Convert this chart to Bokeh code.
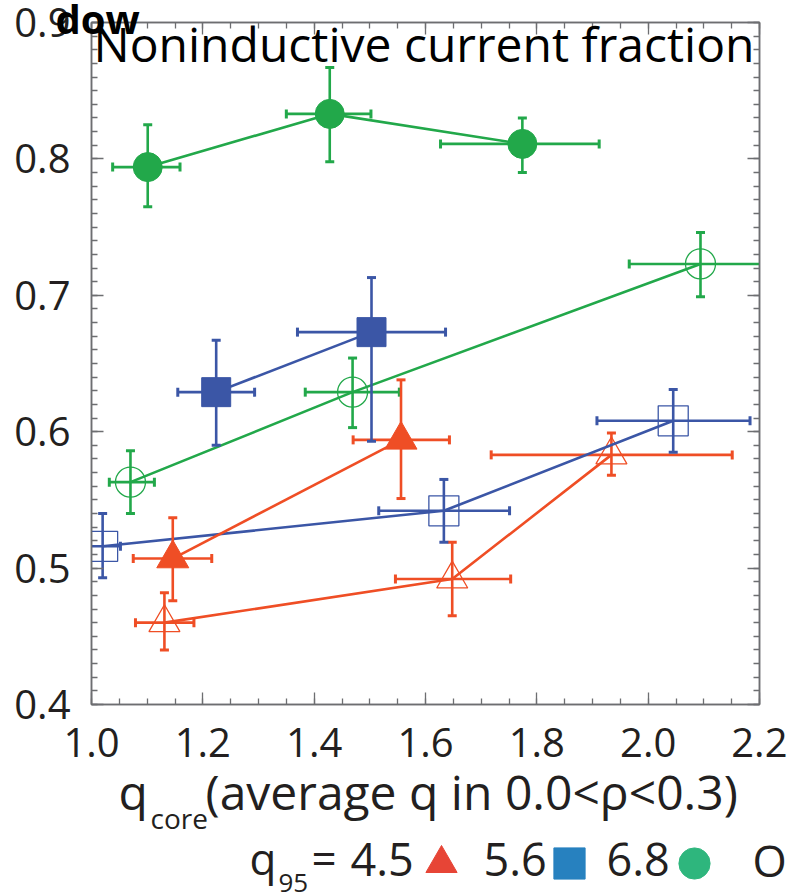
import numpy as np
from bokeh.plotting import figure
from bokeh.models import Range1d, LinearAxis, FixedTicker, Label, Legend, LegendItem, GridBox
from bokeh.core.properties import value
from bokeh.embed import file_html
from bokeh.resources import INLINE

# ---------------- data ----------------
x_ticks = [1.0, 1.2, 1.4, 1.6, 1.8, 2.0, 2.2]
x_tick_labels = ["1.0", "1.2", "1.4", "1.6", "1.8", "2.0", "2.2"]
y_ticks = [0.4, 0.5, 0.6, 0.7, 0.8, 0.9]
y_tick_labels = ["0.4", "0.5", "0.6", "0.7", "0.8", "0.9"]
q95_values = ["4.5", "5.6", "6.8"]

# q95 = 4.5, filled triangles
tri_full_x = [1.146, 1.556]
tri_full_y = [0.507, 0.594]
tri_full_xlo = [1.075, 1.470]
tri_full_xhi = [1.216, 1.643]
tri_full_ylo = [0.476, 0.551]
tri_full_yhi = [0.537, 0.638]

# q95 = 4.5, open triangles
tri_open_x = [1.131, 1.648, 1.934]
tri_open_y = [0.460, 0.492, 0.583]
tri_open_xlo = [1.079, 1.546, 1.718]
tri_open_xhi = [1.184, 1.753, 2.151]
tri_open_ylo = [0.440, 0.465, 0.568]
tri_open_yhi = [0.482, 0.519, 0.599]

# q95 = 5.6, filled squares
sq_full_x = [1.224, 1.503]
sq_full_y = [0.629, 0.673]
sq_full_xlo = [1.155, 1.370]
sq_full_xhi = [1.293, 1.636]
sq_full_ylo = [0.590, 0.593]
sq_full_yhi = [0.667, 0.713]

# q95 = 5.6, open squares
sq_open_x = [1.020, 1.633, 2.045]
sq_open_y = [0.516, 0.542, 0.608]
sq_open_xlo = [0.985, 1.516, 1.908]
sq_open_xhi = [1.052, 1.751, 2.183]
sq_open_ylo = [0.493, 0.519, 0.585]
sq_open_yhi = [0.540, 0.565, 0.631]

# q95 = 6.8, filled circles
circ_full_x = [1.101, 1.428, 1.774]
circ_full_y = [0.794, 0.833, 0.811]
circ_full_xlo = [1.038, 1.350, 1.627]
circ_full_xhi = [1.159, 1.502, 1.912]
circ_full_ylo = [0.765, 0.798, 0.790]
circ_full_yhi = [0.825, 0.867, 0.830]

# q95 = 6.8, open circles
circ_open_x = [1.070, 1.469, 2.094]
circ_open_y = [0.563, 0.629, 0.723]
circ_open_xlo = [1.032, 1.384, 1.966]
circ_open_xhi = [1.113, 1.553, 2.250]
circ_open_ylo = [0.540, 0.603, 0.699]
circ_open_yhi = [0.586, 0.654, 0.746]

# ---------------- style ----------------
RED = "#ef4e25"
BLUE = "#3b56a6"
GREEN = "#22a84a"
LEG_RED = "#e74536"
LEG_BLUE = "#2781bf"
LEG_GREEN = "#2eb67d"
AX = "#6d6e71"
TXT = "#231f20"
FONT = "Open Sans"
W, H = 787, 895

p = figure(width=W, height=H, x_range=Range1d(1.0, 2.2), y_range=Range1d(0.4, 0.9),
           output_backend="svg", toolbar_location=None,
           min_border_left=91, min_border_right=28, min_border_top=22, min_border_bottom=191)
p.frame_align = False
p.xgrid.visible = False
p.ygrid.visible = False
p.outline_line_color = AX
p.outline_line_width = 1.5
p.background_fill_color = "white"
p.border_fill_color = "white"

x_ticker = FixedTicker(ticks=x_ticks, minor_ticks=[round(v, 3) for v in np.arange(1.0, 2.2001, 0.05)])
y_ticker = FixedTicker(ticks=y_ticks, minor_ticks=[round(v, 3) for v in np.arange(0.4, 0.9001, 0.01)])


def style_axis(ax):
    ax.axis_line_color = AX
    ax.axis_line_width = 1.5
    ax.major_tick_line_color = AX
    ax.minor_tick_line_color = AX
    ax.major_tick_line_width = 1.3
    ax.minor_tick_line_width = 1.3
    ax.major_tick_in = 12
    ax.major_tick_out = 0
    ax.minor_tick_in = 6
    ax.minor_tick_out = 0


xb = p.below[0]
xb.ticker = x_ticker
style_axis(xb)
xb.major_label_overrides = {t: s for t, s in zip(x_ticks, x_tick_labels)}
xb.major_label_text_font = FONT
xb.major_label_text_font_size = "40px"
xb.major_label_text_color = TXT
xb.major_label_standoff = 23

yl = p.left[0]
yl.ticker = y_ticker
style_axis(yl)
yl.major_label_overrides = {t: s for t, s in zip(y_ticks, y_tick_labels)}
yl.major_label_text_font = FONT
yl.major_label_text_font_size = "40px"
yl.major_label_text_color = TXT
yl.major_label_standoff = 21

for place, tk in (("above", x_ticker), ("right", y_ticker)):
    ax = LinearAxis(ticker=tk)
    style_axis(ax)
    ax.major_label_text_color = None
    ax.major_label_text_font_size = "0px"
    ax.major_label_standoff = 0
    p.add_layout(ax, place)


def draw_series(x, y, xlo, xhi, ylo, yhi, color, marker, size, filled):
    p.segment(x0=x, y0=ylo, x1=x, y1=yhi, line_color=color, line_width=2.6)
    p.segment(x0=xlo, y0=y, x1=xhi, y1=y, line_color=color, line_width=2.6)
    p.scatter(x=x, y=ylo, marker="dash", size=9, line_color=color, line_width=3)
    p.scatter(x=x, y=yhi, marker="dash", size=9, line_color=color, line_width=3)
    p.scatter(x=xlo, y=y, marker="dash", angle=np.pi / 2, size=9, line_color=color, line_width=3)
    p.scatter(x=xhi, y=y, marker="dash", angle=np.pi / 2, size=9, line_color=color, line_width=3)
    p.line(x=x, y=y, line_color=color, line_width=2.6)
    if filled:
        p.scatter(x=x, y=y, marker=marker, size=size, fill_color=color, line_color=color, line_width=1)
    else:
        p.scatter(x=x, y=y, marker=marker, size=size, fill_color=None, line_color=color, line_width=1.3)


draw_series(tri_open_x, tri_open_y, tri_open_xlo, tri_open_xhi, tri_open_ylo, tri_open_yhi, RED, "triangle", 31, False)
draw_series(sq_open_x, sq_open_y, sq_open_xlo, sq_open_xhi, sq_open_ylo, sq_open_yhi, BLUE, "square", 30, False)
draw_series(circ_open_x, circ_open_y, circ_open_xlo, circ_open_xhi, circ_open_ylo, circ_open_yhi, GREEN, "circle", 30, False)
draw_series(tri_full_x, tri_full_y, tri_full_xlo, tri_full_xhi, tri_full_ylo, tri_full_yhi, RED, "triangle", 32, True)
draw_series(sq_full_x, sq_full_y, sq_full_xlo, sq_full_xhi, sq_full_ylo, sq_full_yhi, BLUE, "square", 29, True)
draw_series(circ_full_x, circ_full_y, circ_full_xlo, circ_full_xhi, circ_full_ylo, circ_full_yhi, GREEN, "circle", 29, True)

# ---------------- overlay for texts that sit outside the plot frame ----------------
ov = figure(width=W, height=H, x_range=Range1d(0, W), y_range=Range1d(H, 0),
            output_backend="svg", toolbar_location=None, min_border=0,
            x_axis_location=None, y_axis_location=None)
ov.frame_align = False
for g in ov.grid:
    g.visible = False
ov.outline_line_color = None
ov.background_fill_color = None
ov.border_fill_color = None


def txt(x, y, text, size, bold=False, color=TXT):
    ov.add_layout(Label(x=x, y=y, text=text, text_font=FONT, text_font_size=size,
                        text_font_style="bold" if bold else "normal", text_color=color,
                        text_baseline="alphabetic", text_align="left"))


txt(93, 43, "Noninductive current fraction", "48px", color="black")
txt(55, 18, "dow", "40px", bold=True, color="black")

# x-axis title  q_core(average q in 0.0<ρ<0.3)
txt(118, 791, "q", "48px")
txt(150, 817, "core", "28px")
txt(205, 791, "(average q in 0.0<ρ<0.3)", "48px")

# key row  q95 = 4.5 ▲  5.6 ■  6.8 ●  O
txt(249, 857, "q", "44px")
txt(278, 882, "95", "26px")
txt(311, 857, "=", "44px")
for xv, v in zip([350, 483, 606], q95_values):
    txt(xv, 859, v, "45px")
txt(752, 859, "O", "44px")

key_specs = [
    ("triangle", LEG_RED, 402),
    ("square", LEG_BLUE, 530),
    ("circle", LEG_GREEN, 655),
]
for marker, color, vx in key_specs:
    r = ov.scatter(x=[np.nan], y=[np.nan], marker=marker, size=30, fill_color=color, line_color=color)
    lg = Legend(items=[LegendItem(label=value(""), renderers=[r])], location=(vx, -7),
                orientation="horizontal", glyph_width=78, glyph_height=78, label_standoff=0,
                label_width=0, padding=0, margin=0, spacing=0, border_line_color=None,
                background_fill_color=None, label_text_font=FONT, label_text_font_size="44px",
                label_text_color=TXT)
    ov.add_layout(lg, "center")

root = GridBox(children=[(p, 0, 0), (ov, 0, 0)])
open("out.html", "w").write(file_html(root, INLINE))
